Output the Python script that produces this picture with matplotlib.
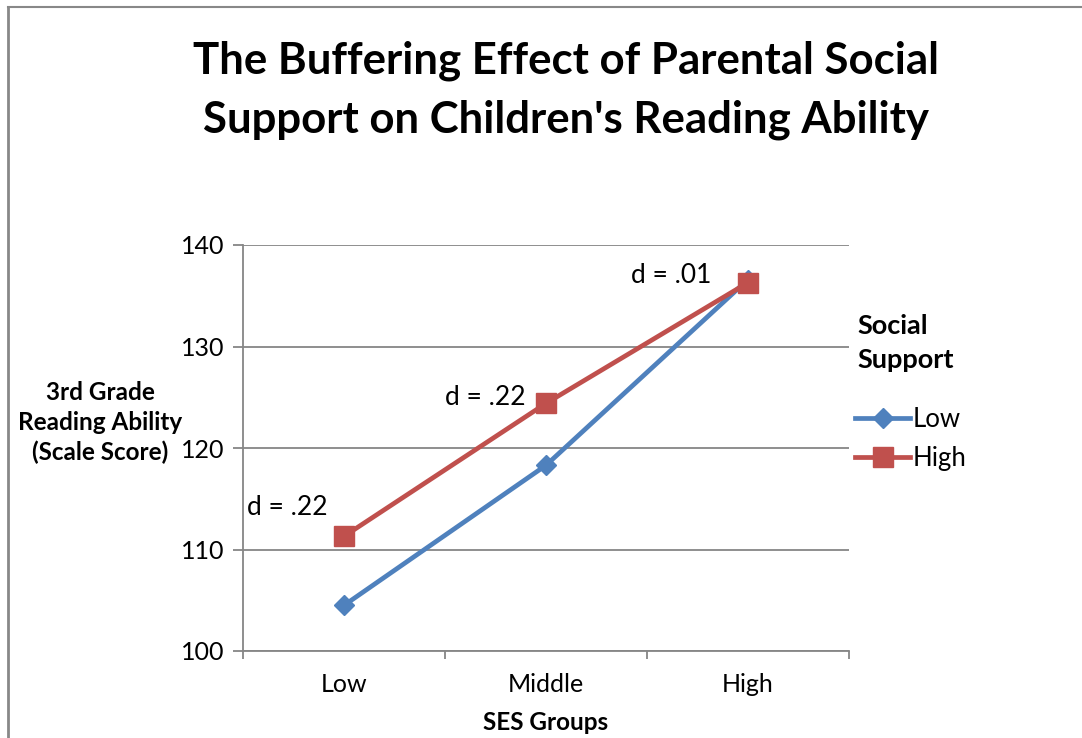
import matplotlib.pyplot as plt
from matplotlib.lines import Line2D

plt.rcParams['font.family'] = ['Lato', 'DejaVu Sans']

ses_groups = ['Low', 'Middle', 'High']
support_low = [104.5, 118.3, 136.6]
support_high = [111.3, 124.4, 136.3]
d_labels = ['d = .22', 'd = .22', 'd = .01']
d_pos = [(-0.28, 114.1), (0.70, 125.0), (1.62, 137.0)]

W, H = 1082, 738
fig = plt.figure(figsize=(W / 100, H / 100), dpi=100)
ax = fig.add_axes([243 / W, 1 - 651 / H, 606 / W, 406 / H])

grey = '#868686'
x = range(len(ses_groups))
ax.plot(x, support_low, color='#4F81BD', lw=3.4, marker='D', ms=10,
        label='Low', zorder=3)
ax.plot(x, support_high, color='#C0504D', lw=3.4, marker='s', ms=14,
        label='High', zorder=4)

ax.set_xlim(-0.5, 2.5)
ax.set_ylim(100, 140)
ax.set_yticks([100, 110, 120, 130, 140])
ax.set_xticks([-0.5, 0.5, 1.5, 2.5], minor=False)
ax.set_xticklabels([])
ax.set_xticks(list(x), minor=True)
ax.set_xticklabels(ses_groups, minor=True, fontsize=18)
ax.tick_params(axis='x', which='minor', length=0, pad=16)
ax.tick_params(axis='x', which='major', length=6, color=grey, width=1.3)
ax.tick_params(axis='y', length=7, color=grey, width=1.3, labelsize=18, pad=6)
ax.grid(axis='y', color=grey, lw=1.3)
ax.set_axisbelow(True)
for s in ['top', 'right']:
    ax.spines[s].set_visible(False)
for s in ['left', 'bottom']:
    ax.spines[s].set_color(grey)
    ax.spines[s].set_linewidth(1.3)

for lab, (px, py) in zip(d_labels, d_pos):
    ax.text(px, py, lab, fontsize=19, ha='center', va='center')

fig.text(566 / W, 1 - 90 / H,
         "The Buffering Effect of Parental Social\nSupport on Children's Reading Ability",
         fontsize=31.5, fontweight='bold', ha='center', va='center', linespacing=1.55)
fig.text(100 / W, 1 - 423 / H, '3rd Grade\nReading Ability\n(Scale Score)',
         fontsize=17.5, fontweight='bold', ha='center', va='center', linespacing=1.35)
fig.text(546 / W, 1 - 722 / H, 'SES Groups', fontsize=17.5, fontweight='bold',
         ha='center', va='center')
fig.text(857 / W, 1 - 343 / H, 'Social\nSupport', fontsize=19.5, fontweight='bold',
         ha='left', va='center', linespacing=1.5)

leg = ax.legend(loc='upper left', bbox_to_anchor=(855 / W, 1 - 407 / H),
                bbox_transform=fig.transFigure, frameon=False, fontsize=18.5,
                handlelength=2.15, handletextpad=0.1, labelspacing=0.55,
                borderpad=0, borderaxespad=0)

fig.add_artist(Line2D([8 / W, 8 / W], [0, 1 - 7 / H], color='#888888', lw=2))
fig.add_artist(Line2D([8 / W, 1], [1 - 7 / H, 1 - 7 / H], color='#888888', lw=1.5))

fig.savefig('out.png', dpi=100)
